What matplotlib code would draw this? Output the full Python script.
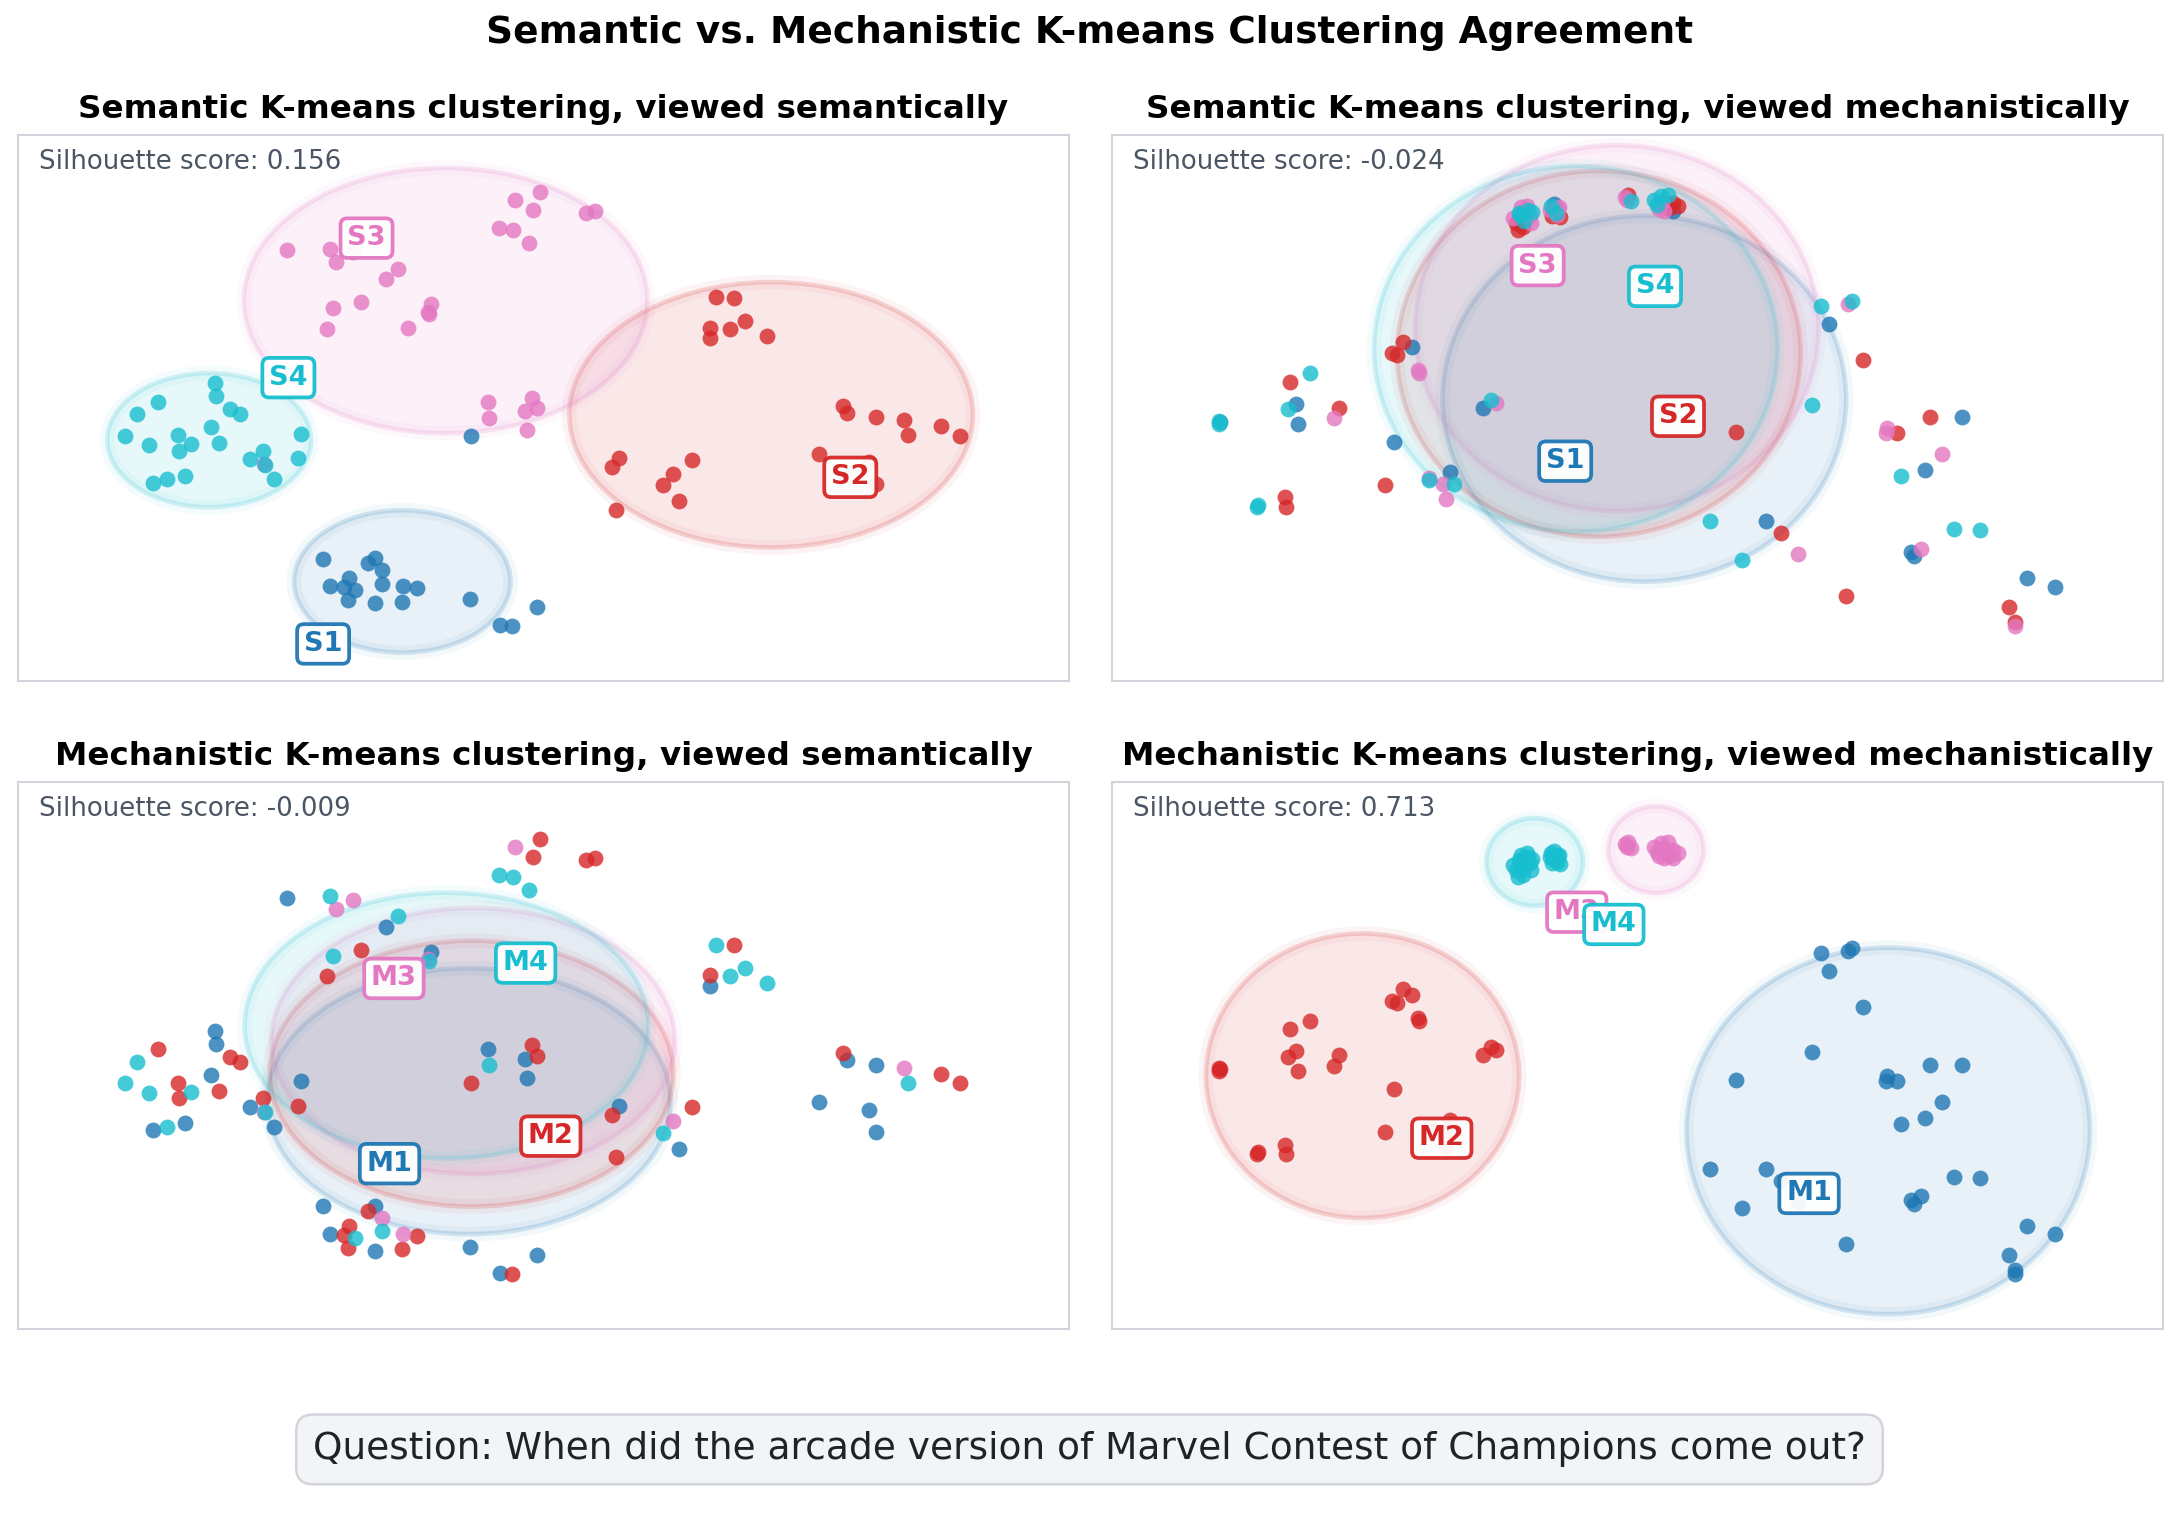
import numpy as np
import matplotlib
matplotlib.use("Agg")
import matplotlib.pyplot as plt
from matplotlib.patches import Ellipse

# --- points in the semantic embedding (left column) ---
sem_x = [
    43.1, 29.0, 33.3, 34.0, 34.6, 29.7, 31.5, 31.0, 32.1, 34.6, 36.6, 38.0, 31.4, 34.0, 36.5, 43.0, 49.4, 45.9, 47.0,
    66.4, 68.1, 69.2, 65.8, 67.7, 65.8, 71.3, 78.5, 78.9, 81.6, 84.3, 84.7, 87.8, 89.6, 57.2, 56.5, 64.1, 62.3,
    61.4, 62.9, 56.9, 76.2, 81.0, 81.6,
    49.7, 47.3, 49.0, 54.0, 54.9, 45.8, 47.1, 48.6, 25.6, 29.7, 31.9, 30.3, 36.2, 35.0, 30.0, 32.6, 39.3, 39.1,
    29.4, 37.1, 44.7, 48.9, 48.2, 49.4, 44.8, 48.4, 39.0, 23.4,
    18.7, 18.8, 13.3, 11.3, 20.2, 21.1, 18.4, 10.2, 12.5, 15.2, 16.5, 15.3, 19.1, 26.9, 23.3, 22.1, 23.5, 26.6,
    24.4, 12.8, 14.2, 15.9,
]
sem_y = [
    35.5, 17.7, 17.1, 17.8, 16.0, 13.7, 14.9, 13.6, 13.1, 14.1, 13.7, 13.4, 11.7, 11.3, 11.5, 11.8, 10.7, 8.1, 8.0,
    55.5, 55.4, 52.1, 51.1, 51.0, 49.6, 49.9, 39.8, 38.8, 38.2, 37.7, 35.6, 36.9, 35.5, 32.2, 30.9, 32.0, 30.0,
    28.3, 26.0, 24.8, 32.8, 31.7, 28.5,
    70.8, 69.6, 68.1, 67.7, 68.0, 65.5, 65.3, 63.4, 62.3, 62.5, 62.0, 60.6, 59.6, 58.1, 53.9, 54.8, 54.5, 53.1,
    51.0, 51.1, 40.4, 41.0, 39.0, 39.5, 38.1, 36.3, 53.4, 31.4,
    43.1, 41.2, 40.4, 38.6, 39.3, 38.6, 36.7, 35.5, 34.1, 35.6, 34.3, 33.3, 34.4, 35.8, 33.3, 32.1, 31.3, 32.2,
    29.2, 28.7, 29.2, 29.7,
]
sem_cluster = [
    1, 1, 1, 1, 1, 1, 1, 1, 1, 1, 1, 1, 1, 1, 1, 1, 1, 1, 1,
    2, 2, 2, 2, 2, 2, 2, 2, 2, 2, 2, 2, 2, 2, 2, 2, 2, 2, 2, 2, 2, 2, 2, 2,
    3, 3, 3, 3, 3, 3, 3, 3, 3, 3, 3, 3, 3, 3, 3, 3, 3, 3, 3, 3, 3, 3, 3, 3, 3, 3, 3, 3,
    4, 4, 4, 4, 4, 4, 4, 4, 4, 4, 4, 4, 4, 4, 4, 4, 4, 4, 4, 4, 4, 4,
]
sem_pts_mech_cluster = [
    2, 1, 2, 1, 3, 1, 2, 2, 4, 4, 3, 2, 2, 1, 2, 1, 1, 1, 2,
    4, 2, 4, 2, 4, 1, 4, 2, 1, 1, 3, 4, 2, 2, 1, 2, 2, 3, 4, 1, 2, 1, 1, 1,
    2, 3, 2, 2, 2, 4, 4, 4, 1, 4, 3, 3, 4, 1, 4, 2, 1, 4, 2, 1, 1, 2, 1, 2, 4, 1, 3, 3,
    1, 1, 2, 4, 2, 2, 1, 4, 4, 2, 4, 2, 2, 1, 2, 1, 4, 2, 1, 1, 4, 1,
]

# --- points in the mechanistic embedding (right column) ---
mech_x = [
    67.5, 70.0, 70.4, 68.2, 71.5, 66.6, 59.4, 73.7, 73.6, 74.7, 77.8, 80.9, 79.0, 77.4, 75.1, 56.9, 62.2, 63.7,
    65.3, 59.9, 69.8, 80.1, 82.6, 76.0, 77.0, 76.3, 87.1, 89.7, 85.3, 85.9, 85.9,
    27.7, 28.5, 26.6, 27.1, 29.1, 29.2, 18.8, 16.9, 17.5, 16.7, 21.6, 21.1, 17.7, 10.2, 10.2, 26.8, 35.3, 36.1,
    36.5, 26.0, 16.5, 16.6, 13.9, 13.8, 30.2, 30.2, 31.5, 32.2, 32.5, 31.8, 10.3,
    49.1, 49.4, 48.8, 51.6, 52.2, 52.9, 51.9, 53.4, 53.9, 52.0, 52.5, 53.4, 52.7, 53.0, 52.3, 49.0,
    38.7, 39.6, 39.2, 38.4, 39.1, 39.8, 38.9, 39.4, 38.2, 39.9, 38.6, 39.5, 40.0, 38.9, 41.8, 42.4, 41.9, 42.2,
    42.6, 41.7, 42.1, 42.5, 39.0, 42.0, 39.3, 42.3, 38.8, 39.3,
]
mech_y = [
    39.4, 39.6, 39.9, 37.5, 33.7, 29.0, 26.1, 26.5, 26.0, 26.0, 27.7, 27.7, 23.8, 22.1, 21.5, 16.8, 16.8, 15.5,
    13.3, 12.7, 8.9, 15.9, 15.8, 13.5, 13.9, 13.1, 10.8, 9.9, 7.8, 6.2, 5.8,
    35.6, 35.0, 34.4, 34.2, 32.6, 32.3, 32.3, 31.4, 29.1, 28.5, 28.7, 27.6, 27.0, 27.3, 27.0, 25.1, 28.7, 29.5,
    29.2, 20.6, 19.3, 18.3, 18.5, 18.3, 21.1, 21.3, 20.7, 21.9, 20.7, 19.1, 27.2,
    51.0, 50.4, 50.8, 50.5, 50.9, 51.0, 50.0, 50.2, 49.9, 49.5, 49.3, 49.3, 50.1, 49.6, 50.3, 50.5,
    49.1, 49.4, 48.3, 48.1, 47.6, 48.8, 49.7, 48.7, 48.6, 48.1, 47.3, 49.9, 49.2, 48.1, 49.9, 49.5, 48.8, 49.1,
    48.7, 49.4, 50.1, 49.7, 48.5, 49.3, 49.3, 48.9, 48.9, 48.9,
]
mech_cluster = [
    1, 1, 1, 1, 1, 1, 1, 1, 1, 1, 1, 1, 1, 1, 1, 1, 1, 1, 1, 1, 1, 1, 1, 1, 1, 1, 1, 1, 1, 1, 1,
    2, 2, 2, 2, 2, 2, 2, 2, 2, 2, 2, 2, 2, 2, 2, 2, 2, 2, 2, 2, 2, 2, 2, 2, 2, 2, 2, 2, 2, 2, 2,
    3, 3, 3, 3, 3, 3, 3, 3, 3, 3, 3, 3, 3, 3, 3, 3,
    4, 4, 4, 4, 4, 4, 4, 4, 4, 4, 4, 4, 4, 4, 4, 4, 4, 4, 4, 4, 4, 4, 4, 4, 4, 4, 4, 4,
]
mech_pts_sem_cluster = [
    4, 3, 4, 1, 2, 4, 2, 3, 3, 2, 2, 1, 3, 1, 4, 4, 1, 2, 3, 4, 2, 4, 4, 1, 3, 1, 1, 1, 2, 2, 3,
    2, 1, 2, 2, 3, 3, 4, 2, 1, 4, 2, 3, 1, 4, 4, 1, 1, 4, 3, 2, 2, 2, 4, 4, 4, 3, 3, 1, 4, 3, 1,
    2, 4, 3, 4, 4, 4, 4, 2, 2, 3, 3, 1, 1, 2, 3, 3,
    4, 4, 4, 2, 2, 3, 3, 1, 3, 3, 2, 3, 4, 2, 4, 3, 2, 4, 2, 3, 1, 3, 2, 2, 3, 3, 4, 1,
]

# cluster ellipse radii (x data units)
radius_sem_in_sem = [10.3, 19.2, 19.2, 9.7]
radius_sem_in_mech = [19.2, 19.2, 19.2, 19.2]
radius_mech_in_sem = [19.2, 19.2, 19.2, 19.2]
radius_mech_in_mech = [19.2, 14.9, 4.55, 4.6]

silhouette = [0.156, -0.024, -0.009, 0.713]
titles = [
    "Semantic K-means clustering, viewed semantically",
    "Semantic K-means clustering, viewed mechanistically",
    "Mechanistic K-means clustering, viewed semantically",
    "Mechanistic K-means clustering, viewed mechanistically",
]
question = "Question: When did the arcade version of Marvel Contest of Champions come out?"

colors = {1: "#1f77b4", 2: "#d62728", 3: "#e377c2", 4: "#17becf"}

W, H, DPI = 2179, 1513, 150
fig = plt.figure(figsize=(W / DPI, H / DPI), dpi=DPI)

rects = [
    [18 / W, 1 - 681 / H, 1051 / W, 546 / H],
    [1112 / W, 1 - 681 / H, 1051 / W, 546 / H],
    [18 / W, 1 - 1329 / H, 1051 / W, 547 / H],
    [1112 / W, 1 - 1329 / H, 1051 / W, 547 / H],
]

sem_x, sem_y = np.array(sem_x), np.array(sem_y)
mech_x, mech_y = np.array(mech_x), np.array(mech_y)
sem_cluster, sem_pts_mech_cluster = np.array(sem_cluster), np.array(sem_pts_mech_cluster)
mech_cluster, mech_pts_sem_cluster = np.array(mech_cluster), np.array(mech_pts_sem_cluster)

panels = [
    (sem_x, sem_y, sem_cluster, "S", radius_sem_in_sem, (0, 79.0)),
    (mech_x, mech_y, mech_pts_sem_cluster, "S", radius_sem_in_mech, (0, 57.3)),
    (sem_x, sem_y, sem_pts_mech_cluster, "M", radius_mech_in_sem, (0, 79.0)),
    (mech_x, mech_y, mech_cluster, "M", radius_mech_in_mech, (0, 57.3)),
]

# label offset direction per cluster (x, y)
label_dir = {1: (-1, -1), 2: (1, -1), 3: (-1, 1), 4: (1, 1)}
off_x, off_y = 38, 30  # points

for i, (x, y, lab, prefix, radii, ylim) in enumerate(panels):
    ax = fig.add_axes(rects[i])
    ax.set_xlim(0, 100)
    ax.set_ylim(*ylim)
    ax.set_xticks([])
    ax.set_yticks([])
    for sp in ax.spines.values():
        sp.set_color("#d1d5db")
        sp.set_linewidth(1.0)

    centers = {}
    for k in [1, 2, 3, 4]:
        m = lab == k
        cx, cy = x[m].mean(), y[m].mean()
        centers[k] = (cx, cy)
        r = radii[k - 1]
        c = colors[k]
        ax.add_patch(Ellipse((cx, cy), 2 * r, 2 * r, facecolor=c, edgecolor="none", alpha=0.1, zorder=1))
        ax.add_patch(Ellipse((cx, cy), 2 * r, 2 * r, fill=False, edgecolor=c, lw=7, alpha=0.05, zorder=1))
        ax.add_patch(Ellipse((cx, cy), 2 * r, 2 * r, fill=False, edgecolor=c, lw=2.2, alpha=0.17, zorder=1))

    for k in [1, 2, 3, 4]:
        m = lab == k
        ax.scatter(x[m], y[m], s=58, color=colors[k], alpha=0.8, linewidths=0, zorder=3)

    # keep labels inside the frame: flip the vertical offset if needed
    ax_h_pt = rects[i][3] * H / DPI * 72
    for k in [1, 2, 3, 4]:
        cx, cy = centers[k]
        dx, dy = label_dir[k]
        fy = (cy - ylim[0]) / (ylim[1] - ylim[0])
        ny = fy + dy * off_y / ax_h_pt
        if ny > 0.95 or ny < 0.03:
            dy = -dy
        c = colors[k]
        ax.annotate(f"{prefix}{k}", xy=(cx, cy), xytext=(dx * off_x, dy * off_y),
                    textcoords="offset points", ha="center", va="center",
                    fontsize=13, fontweight="bold", color=c, zorder=5,
                    bbox=dict(boxstyle="round,pad=0.25", fc="white", ec=c, lw=1.8, alpha=0.95))

    ax.text(0.02, 0.975, f"Silhouette score: {silhouette[i]:.3f}", transform=ax.transAxes,
            ha="left", va="top", fontsize=12.5, color="#4b5563", zorder=6)
    ax.set_title(titles[i], fontsize=15.6, fontweight="bold", pad=8)

fig.text(0.5, 1 - 33 / H, "Semantic vs. Mechanistic K-means Clustering Agreement",
         ha="center", va="center", fontsize=18, fontweight="bold")

fig.text(0.5, 1 - 1043 * 1.3897 / H, question, ha="center", va="center", fontsize=18, color="#1f2328",
         bbox=dict(boxstyle="round,pad=0.45", fc="#f3f4f6", ec="#d1d5db", lw=1.2))

fig.savefig("out.png", dpi=DPI)
